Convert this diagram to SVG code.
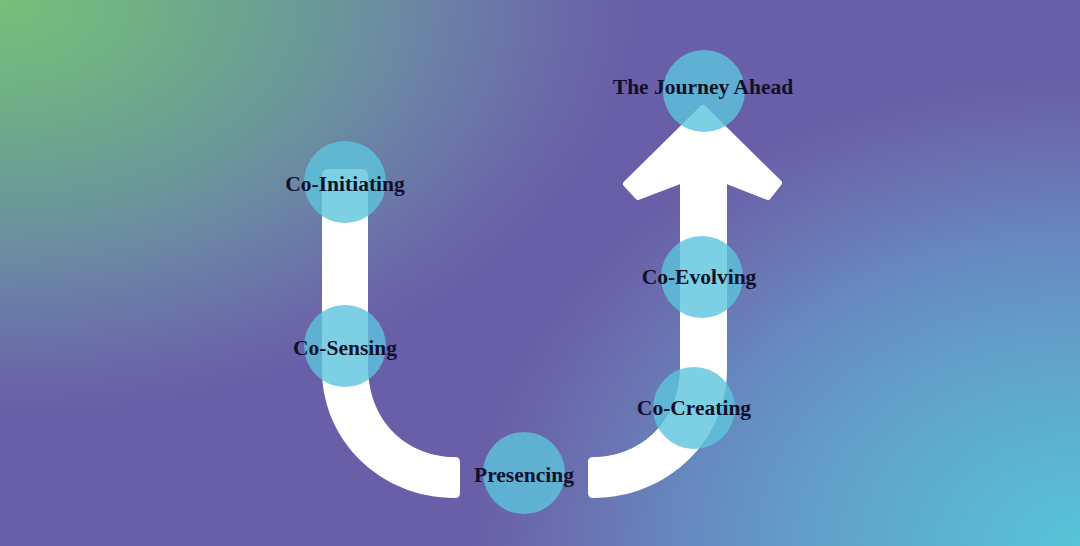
<svg xmlns="http://www.w3.org/2000/svg" width="1080" height="546" viewBox="0 0 1080 546">
  <defs>
    <radialGradient id="green" gradientUnits="userSpaceOnUse" cx="0" cy="0" r="1" gradientTransform="scale(660,430)">
      <stop offset="0" stop-color="#77bf79"/>
      <stop offset="0.18" stop-color="#71b482"/>
      <stop offset="0.34" stop-color="#6ca58e"/>
      <stop offset="0.5" stop-color="#6a979a"/>
      <stop offset="0.64" stop-color="#6a85a5"/>
      <stop offset="0.74" stop-color="#6a78a8"/>
      <stop offset="0.86" stop-color="#6a69a8"/>
      <stop offset="0.97" stop-color="#695ea8"/>
      <stop offset="1" stop-color="#695ea8"/>
    </radialGradient>
    <radialGradient id="cyan" gradientUnits="userSpaceOnUse" cx="0" cy="0" r="1" gradientTransform="translate(1080,546) scale(650,500)">
      <stop offset="0" stop-color="#56c4d8"/>
      <stop offset="0.18" stop-color="#5bb5d1"/>
      <stop offset="0.4" stop-color="#61a1c9"/>
      <stop offset="0.61" stop-color="#6689c0"/>
      <stop offset="0.78" stop-color="#6a71b0"/>
      <stop offset="0.94" stop-color="#695ea8"/>
      <stop offset="1" stop-color="#695ea8" stop-opacity="0"/>
    </radialGradient>
  </defs>
  <style>
    .path { fill: #ffffff; }
    .head { fill: #ffffff; stroke: #ffffff; stroke-width: 6; stroke-linejoin: round; }
    .node circle { fill: #5cc4dc; fill-opacity: 0.8; }
    .node text { font-family: "Liberation Serif", "DejaVu Serif", serif; font-weight: bold; font-size: 21.5px; fill: #10102a; text-anchor: middle; }
  </style>
  <rect x="0" y="0" width="1080" height="546" fill="url(#green)"/>
  <rect x="0" y="0" width="1080" height="546" fill="url(#cyan)"/>
  <g id="connectors">
    <path class="path" d="M 328,169 H 362 Q 368,169 368,175 V 370 C 370,425 410,457 455,457 Q 460,457 460,462 V 493 Q 460,498 455,498 C 380,498 322,440 322,370 V 175 Q 322,169 328,169 Z"/>
    <path class="path" d="M 680,180 H 727 V 370 C 727,440 668,498 593,498 Q 588,498 588,493 V 462 Q 588,457 593,457 C 638,457 678,425 680,370 Z"/>
    <polygon class="head" points="703,108 779,183 768,197 727,181 680,181 638,197 626,184"/>
  </g>
  <g id="node-co-initiating" class="node">
    <circle cx="345" cy="182" r="41"/>
    <text x="345" y="191">Co-Initiating</text>
  </g>
  <g id="node-co-sensing" class="node">
    <circle cx="345" cy="346" r="41"/>
    <text x="345" y="355">Co-Sensing</text>
  </g>
  <g id="node-presencing" class="node">
    <circle cx="524" cy="473" r="41"/>
    <text x="524" y="482">Presencing</text>
  </g>
  <g id="node-co-creating" class="node">
    <circle cx="694" cy="408" r="41"/>
    <text x="694" y="415">Co-Creating</text>
  </g>
  <g id="node-co-evolving" class="node">
    <circle cx="702" cy="277" r="41"/>
    <text x="699" y="284">Co-Evolving</text>
  </g>
  <g id="node-journey-ahead" class="node">
    <circle cx="704" cy="91" r="41"/>
    <text x="703" y="94">The Journey Ahead</text>
  </g>
</svg>
